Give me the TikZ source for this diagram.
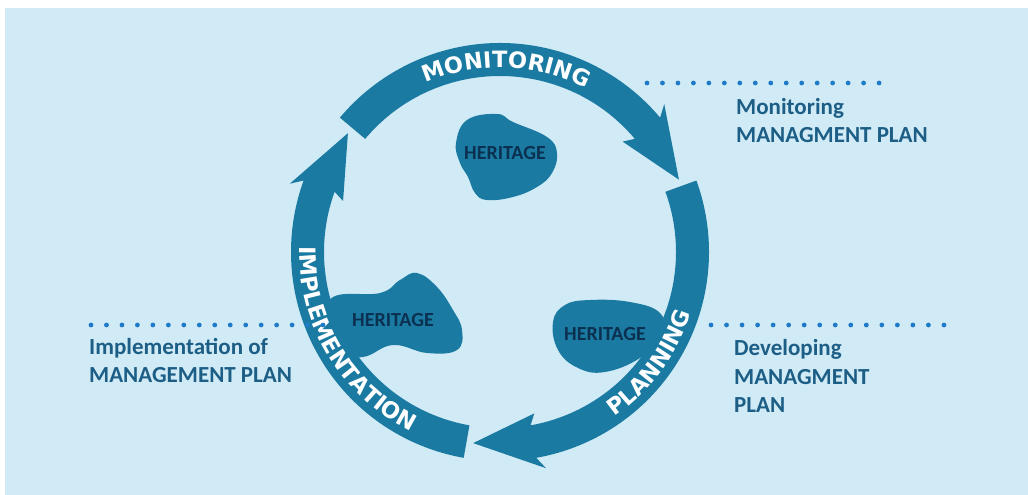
\documentclass[tikz,border=0pt]{standalone}
\usepackage{fontspec}
\setmainfont{Carlito}
\newfontfamily\ringfam{DejaVu Sans}
\usetikzlibrary{decorations.text}
\definecolor{bgc}{HTML}{D1EBF6}
\definecolor{ringc}{HTML}{1A7AA2}
\definecolor{labc}{HTML}{1C5E86}
\definecolor{herc}{HTML}{0B3050}
\definecolor{dotc}{HTML}{1F7BC8}
\newcommand\ringtxt{\ringfam\bfseries\fontsize{22.5}{24}\selectfont}
\begin{document}
\begin{tikzpicture}[x=1pt,y=1pt,
  lab/.style={font=\bfseries\fontsize{23}{28.5}\selectfont, text=labc, align=left, inner sep=0pt},
  her/.style={font=\bfseries\fontsize{20}{20}\selectfont, text=herc, inner sep=0pt},
  blob/.style={fill=ringc},
  arr/.style={fill=ringc},
  dot/.style={fill=dotc},
  ringlabel/.style={decorate, decoration={text along path, text align=center, text color=white, text={|\ringtxt|#1}}}
]
\useasboundingbox (0,0) rectangle (1028,495);
\fill[bgc] (5,0) rectangle (1028,487);

% heritage blobs
\fill[blob] plot[smooth cycle, tension=0.7] coordinates {(467,375) (497,381) (513,373) (547,358) (557,342) (552,322) (537,308) (513,298) (487,295) (475,302) (468,318) (460,332) (456,352)};
\fill[blob] plot[smooth cycle, tension=0.7] coordinates {(417,222) (437,208) (453,185) (462,165) (457,145) (427,142) (393,150) (363,138) (335,143) (325,170) (333,198) (380,202) (400,215)};
\fill[blob] plot[smooth cycle, tension=0.7] coordinates {(553,173) (565,190) (590,195) (630,193) (660,182) (662,160) (640,137) (605,123) (578,127) (558,145)};
\node[her] (h1) at (505,342) {HERITAGE};
\node[her] (h2) at (393,175) {HERITAGE};
\node[her] (h3) at (605,161) {HERITAGE};

% ring of three arrows
\begin{scope}[shift={(500,243)}]
\foreach \T in {140,20,-100} {
  \fill[arr] (\T:209) arc[start angle=\T, end angle=\T-100, radius=209]
    -- ({\T-98}:221) -- ({\T-118}:193) -- ({\T-98}:165) -- ({\T-100}:176)
    arc[start angle=\T-100, end angle=\T, radius=176] -- cycle;
}
\path[ringlabel=MONITORING] (128:184.5) arc[start angle=128, end angle=48, radius=184.5];
\path[ringlabel=IMPLEMENTATION] (150:200.5) arc[start angle=150, end angle=272, radius=200.5];
\path[ringlabel=PLANNING] (-80:200.5) arc[start angle=-80, end angle=7, radius=200.5];
\end{scope}

% dotted leaders
\foreach \i in {0,...,15} {
  \fill[dot] (647+\i*15.47,412) circle (2.4);
  \fill[dot] (91+\i*15.47,170) circle (2.4);
  \fill[dot] (711+\i*15.53,170) circle (2.4);
}

% labels (anchored at the baseline of their last line)
\node[lab, anchor=base west] (lmon) at (736,352) {Monitoring\\MANAGMENT PLAN};
\node[lab, anchor=base west] (ldev) at (734,82) {Developing\\MANAGMENT\\PLAN};
\node[lab, anchor=base west] (limp) at (89,112) {Implementation of\\MANAGEMENT PLAN};
\end{tikzpicture}
\end{document}
